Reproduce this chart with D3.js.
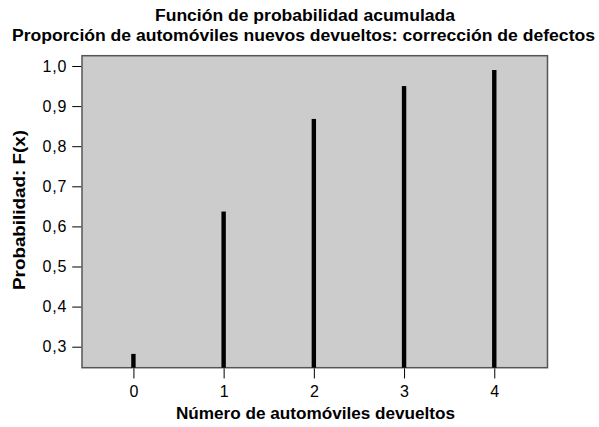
<!DOCTYPE html>
<html><head><meta charset="utf-8">
<script src="https://cdn.jsdelivr.net/npm/d3@7"></script>
<style>body{margin:0;background:#fff}svg{display:block}text{font-family:"Liberation Sans",Arial,sans-serif}</style>
</head><body>
<svg id="c" width="599" height="427"></svg>
<script>
const categories = [0, 1, 2, 3, 4];
const cumulative = [0.282, 0.637, 0.868, 0.950, 0.990];
const yTicks = [0.3, 0.4, 0.5, 0.6, 0.7, 0.8, 0.9, 1.0];
const titleLines = ["Función de probabilidad acumulada", "Proporción de automóviles nuevos devueltos: corrección de defectos"];
const xTitle = "Número de automóviles devueltos";
const yTitle = "Probabilidad: F(x)";

const svg = d3.select("#c");
const L = 82, R = 547.5, T = 55.7, B = 367.7;
const x = d3.scaleLinear().domain([-0.57, 4.59]).range([L, R]);
const y = d3.scaleLinear().domain([0.2476, 1.0257]).range([B, T]);

svg.append("rect").attr("x", L).attr("y", T).attr("width", R - L).attr("height", B - T)
  .attr("fill", "#cccccc").attr("stroke", "#555").attr("stroke-width", 1.5);

svg.append("g").selectAll("rect").data(categories).join("rect")
  .attr("x", d => x(d) - 2.2).attr("width", 4.4)
  .attr("y", (d, i) => y(cumulative[i]))
  .attr("height", (d, i) => B - y(cumulative[i]))
  .attr("fill", "#000");

const fmt = d => d3.format(".1f")(d).replace(".", ",");
const yAxis = d3.axisLeft(y).tickValues(yTicks).tickFormat(fmt).tickSize(9).tickPadding(5);
const gy = svg.append("g").attr("transform", `translate(${L - 0.75},0)`).call(yAxis);
gy.select(".domain").remove();
gy.selectAll("text").attr("font-size", 16).attr("fill", "#000").attr("font-family", "Liberation Sans, Arial, sans-serif").attr("letter-spacing", 0.8);
gy.selectAll("line").attr("stroke", "#000");

const xAxis = d3.axisBottom(x).tickValues(categories).tickFormat(d3.format("d")).tickSize(10).tickPadding(7);
const gx = svg.append("g").attr("transform", `translate(0,${B + 0.75})`).call(xAxis);
gx.select(".domain").remove();
gx.selectAll("text").attr("font-size", 16).attr("fill", "#000").attr("font-family", "Liberation Sans, Arial, sans-serif");
gx.selectAll("line").attr("stroke", "#000");

function title(sel, len) {
  return sel.attr("text-anchor", "middle").attr("font-weight", "bold").attr("font-size", 16)
    .attr("textLength", len).attr("lengthAdjust", "spacingAndGlyphs");
}
title(svg.append("text").attr("x", 305).attr("y", 21).text(titleLines[0]), 300);
title(svg.append("text").attr("x", 303.5).attr("y", 41).text(titleLines[1]), 583);
title(svg.append("text").attr("x", 315.5).attr("y", 419).text(xTitle), 279);
title(svg.append("text").attr("transform", "translate(25,210) rotate(-90)").text(yTitle), 160);
</script>
</body></html>
